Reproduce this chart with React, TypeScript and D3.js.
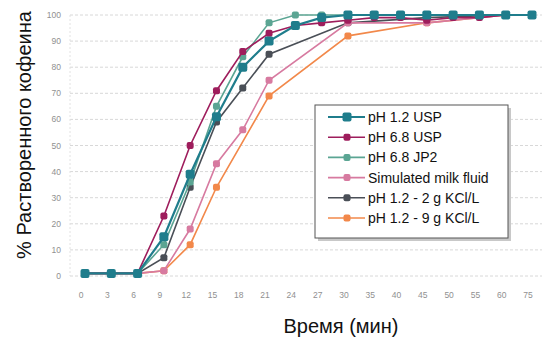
import * as d3 from 'd3';
import { useEffect, useRef } from 'react';

const times = ['0', '3', '6', '9', '12', '15', '18', '21', '24', '27', '30', '35', '40', '45', '50', '55', '60', '75'];
const yTicks = [0, 10, 20, 30, 40, 50, 60, 70, 80, 90, 100];

// null = no measurement at that time point
const ph12Usp = [1, 1, 1, 15, 39, 61, 80, 90, 96, 99, 100, 100, 100, 100, 100, 100, 100, 100];
const ph68Usp = [1, 1, 1, 23, 50, 71, 86, 93, 96, 97, 98, 99, 99, 98, 99, 99, 100, 100];
const ph68Jp2 = [1, 1, 1, 12, 36, 65, 84, 97, 100, 100, 100, 100, 100, 100, 100, 100, 100, 100];
const milk = [1, 1, 1, 2, 18, 43, 56, 75, null, null, 97, null, null, 97, null, null, 100, 100];
const kcl2 = [1, 1, 1, 7, 34, 59, 72, 85, null, null, 97, null, null, 99, null, null, 100, 100];
const kcl9 = [1, 1, 1, 2, 12, 34, null, 69, null, null, 92, null, null, 97, null, null, 100, 100];

const seriesNames = ['pH 1.2 USP', 'pH 6.8 USP', 'pH 6.8 JP2', 'Simulated milk fluid', 'pH 1.2 - 2 g KCl/L', 'pH 1.2 - 9 g KCl/L'];
const seriesValues = [ph12Usp, ph68Usp, ph68Jp2, milk, kcl2, kcl9];
const seriesColors = ['#1f7d8c', '#9e1d5c', '#5ba593', '#d77aa0', '#4a4f57', '#f2884a'];

export default function App() {
  const ref = useRef<SVGSVGElement>(null);

  useEffect(() => {
    document.body.style.margin = '0';
    const svg = d3.select(ref.current);
    svg.selectAll('*').remove();

    const x = d3.scalePoint<string>().domain(times).range([85, 532]);
    const y = d3.scaleLinear().domain([0, 100]).range([276, 15]);

    // grid
    svg
      .append('g')
      .selectAll('line')
      .data(yTicks)
      .enter()
      .append('line')
      .attr('x1', 70)
      .attr('x2', 542)
      .attr('y1', (d) => y(d))
      .attr('y2', (d) => y(d))
      .style('stroke', '#d8d8d8')
      .style('stroke-dasharray', '3,2');

    svg
      .append('line')
      .attr('x1', 70)
      .attr('x2', 70)
      .attr('y1', y(100))
      .attr('y2', y(0))
      .style('stroke', '#e2e2e2')
      .style('stroke-dasharray', '2,2');

    // tick labels
    svg
      .append('g')
      .selectAll('text')
      .data(yTicks)
      .enter()
      .append('text')
      .attr('x', 61)
      .attr('y', (d) => y(d) + 3)
      .style('text-anchor', 'end')
      .style('font-size', '8.5px')
      .style('font-family', 'Liberation Sans, Arial, sans-serif')
      .style('fill', '#909090')
      .text((d) => d);

    svg
      .append('g')
      .selectAll('text')
      .data(times)
      .enter()
      .append('text')
      .attr('x', (d) => x(d)! - 4)
      .attr('y', 298)
      .style('text-anchor', 'middle')
      .style('font-size', '8.5px')
      .style('font-family', 'Liberation Sans, Arial, sans-serif')
      .style('fill', '#909090')
      .text((d) => d);

    // series, drawn last-to-first so pH 1.2 USP sits on top
    const line = d3
      .line<[string, number | null]>()
      .x((d) => x(d[0])!)
      .y((d) => y(d[1] as number));

    for (let s = seriesValues.length - 1; s >= 0; s--) {
      const pts = times
        .map((t, i) => [t, seriesValues[s][i]] as [string, number | null])
        .filter((d) => d[1] !== null);
      const big = s === 0;
      const size = big ? 9 : 7;
      svg
        .append('path')
        .attr('d', line(pts))
        .style('fill', 'none')
        .style('stroke', seriesColors[s])
        .style('stroke-width', big ? 2.2 : 1.6);
      svg
        .append('g')
        .selectAll('rect')
        .data(pts)
        .enter()
        .append('rect')
        .attr('x', (d) => x(d[0])! - size / 2)
        .attr('y', (d) => y(d[1] as number) - size / 2)
        .attr('width', size)
        .attr('height', size)
        .attr('rx', 2)
        .style('fill', seriesColors[s]);
    }

    // legend
    const lg = svg.append('g');
    lg.append('rect')
      .attr('x', 318)
      .attr('y', 108)
      .attr('width', 193)
      .attr('height', 133)
      .style('fill', '#c8c8c8');
    lg.append('rect')
      .attr('x', 315)
      .attr('y', 105)
      .attr('width', 193)
      .attr('height', 133)
      .style('fill', 'white')
      .style('stroke', '#555')
      .style('stroke-width', 1);

    const items = lg
      .selectAll('.legend')
      .data(seriesNames)
      .enter()
      .append('g')
      .attr('transform', (d, i) => `translate(0, ${117 + i * 20.2})`);

    items
      .append('line')
      .attr('x1', 328)
      .attr('x2', 365)
      .style('stroke', (d, i) => seriesColors[i])
      .style('stroke-width', (d, i) => (i === 0 ? 2.2 : 1.6));

    items
      .append('rect')
      .attr('x', (d, i) => 347 - (i === 0 ? 4.5 : 3.5))
      .attr('y', (d, i) => -(i === 0 ? 4.5 : 3.5))
      .attr('width', (d, i) => (i === 0 ? 9 : 7))
      .attr('height', (d, i) => (i === 0 ? 9 : 7))
      .attr('rx', 2)
      .style('fill', (d, i) => seriesColors[i]);

    items
      .append('text')
      .attr('x', 368)
      .attr('y', 5)
      .style('font-size', '14px')
      .style('font-family', 'Liberation Sans, Arial, sans-serif')
      .style('fill', '#111')
      .text((d) => d);

    // axis titles
    svg
      .append('text')
      .attr('x', 341)
      .attr('y', 333)
      .style('text-anchor', 'middle')
      .style('font-size', '20px')
      .style('font-family', 'Liberation Sans, Arial, sans-serif')
      .style('fill', '#111')
      .text('Время (мин)');

    svg
      .append('text')
      .attr('transform', 'translate(31, 135) rotate(-90)')
      .style('text-anchor', 'middle')
      .style('font-size', '20px')
      .style('font-family', 'Liberation Sans, Arial, sans-serif')
      .style('fill', '#111')
      .text('% Растворенного кофеина');
  }, []);

  return <svg ref={ref} width={542} height={338} style={{ display: 'block', background: 'white' }} />;
}
